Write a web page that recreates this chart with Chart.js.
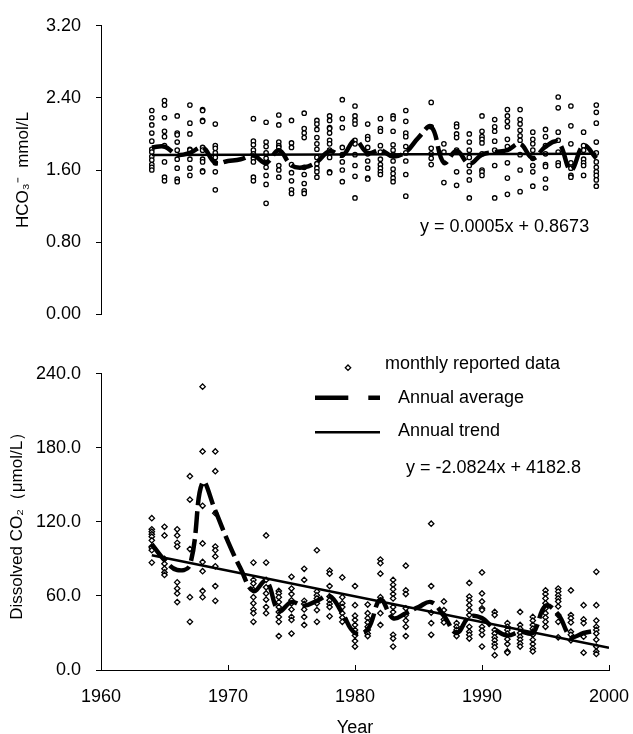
<!DOCTYPE html>
<html>
<head>
<meta charset="utf-8">
<script src="https://cdn.jsdelivr.net/npm/chart.js@4.4.1/dist/chart.umd.min.js"></script>
<style>
    body { margin: 0; background: #fff; }
    #quadro { position: relative; width: 633px; height: 734px; }
    canvas { position: absolute; left: 0; }
</style>
</head>
<body>
<div id="quadro">
    <canvas id="graficoHco3" width="633" height="340" style="top:0px"></canvas>
    <canvas id="graficoCo2" width="633" height="394" style="top:340px"></canvas>
</div>
<script>
// Anos com dados mensais (mesmos anos nos dois gráficos)
const anosMensais = [1964, 1965, 1966, 1967, 1968, 1969, 1972, 1973, 1974, 1975, 1976, 1977, 1978, 1979, 1980,
    1981, 1982, 1983, 1984, 1986, 1987, 1988, 1989, 1990, 1991, 1992, 1993, 1994, 1995, 1996, 1997, 1998, 1999];

// HCO3- mensal (mmol/L), um array por ano
const hco3Mensal = [
    [2.26, 2.18, 2.10, 2.01, 1.92, 1.83, 1.80, 1.75, 1.71, 1.66, 1.63, 1.60],
    [2.37, 2.32, 2.18, 2.03, 1.97, 1.87, 1.69, 1.52, 1.48],
    [2.20, 2.01, 1.99, 1.91, 1.82, 1.72, 1.62, 1.50, 1.47],
    [2.32, 2.12, 2.00, 1.83, 1.82, 1.72, 1.62, 1.54],
    [2.27, 2.26, 2.15, 2.14, 1.85, 1.82, 1.72, 1.69, 1.59, 1.58],
    [2.11, 1.87, 1.84, 1.79, 1.74, 1.68, 1.58, 1.38],
    [2.17, 1.92, 1.88, 1.82, 1.78, 1.73, 1.69, 1.52, 1.48],
    [2.13, 1.91, 1.86, 1.79, 1.73, 1.68, 1.63, 1.54, 1.44, 1.23],
    [2.21, 2.10, 1.91, 1.87, 1.85, 1.81, 1.65, 1.60, 1.52],
    [2.15, 1.90, 1.85, 1.66, 1.57, 1.48, 1.38, 1.34],
    [2.23, 2.06, 2.01, 1.96, 1.63, 1.55, 1.45, 1.37, 1.34],
    [2.15, 2.11, 2.05, 1.96, 1.89, 1.83, 1.74, 1.67, 1.62, 1.58, 1.52],
    [2.20, 2.15, 2.07, 2.06, 2.01, 1.93, 1.89, 1.82, 1.74, 1.58, 1.57],
    [2.38, 2.17, 2.07, 1.85, 1.77, 1.69, 1.60, 1.47],
    [2.31, 2.20, 2.15, 2.11, 1.93, 1.89, 1.77, 1.65, 1.53, 1.29],
    [2.11, 1.97, 1.94, 1.85, 1.78, 1.70, 1.62, 1.51, 1.50],
    [2.17, 2.06, 2.03, 1.87, 1.80, 1.72, 1.66, 1.62, 1.58, 1.55],
    [2.20, 2.17, 2.03, 1.88, 1.82, 1.77, 1.70, 1.61, 1.56, 1.51, 1.47],
    [2.26, 2.14, 2.01, 1.97, 1.86, 1.79, 1.70, 1.55, 1.31],
    [2.35, 2.08, 1.84, 1.78, 1.73, 1.66],
    [1.89, 1.80, 1.46],
    [2.11, 2.08, 2.00, 1.96, 1.82, 1.58, 1.43],
    [2.00, 1.91, 1.82, 1.74, 1.65, 1.58, 1.49, 1.29],
    [2.20, 2.03, 1.97, 1.94, 1.90, 1.78, 1.60, 1.58, 1.54],
    [2.16, 2.08, 2.03, 1.92, 1.82, 1.65, 1.29],
    [2.27, 2.20, 2.14, 2.08, 1.94, 1.86, 1.68, 1.51, 1.33],
    [2.27, 2.16, 2.11, 2.04, 1.98, 1.93, 1.77, 1.60, 1.36],
    [2.02, 1.94, 1.89, 1.82, 1.73, 1.65, 1.58, 1.42],
    [2.05, 1.97, 1.87, 1.78, 1.66, 1.64, 1.50, 1.40],
    [2.41, 2.29, 2.02, 1.93, 1.80, 1.68, 1.65],
    [2.31, 2.09, 1.89, 1.68, 1.62, 1.54, 1.52],
    [2.02, 1.87, 1.82, 1.72, 1.68, 1.65, 1.54],
    [2.32, 2.24, 2.12, 1.91, 1.79, 1.69, 1.63, 1.58, 1.54, 1.49, 1.42]
];

// CO2 dissolvido mensal (umol/L), um array por ano
const co2Mensal = [
    [123, 114, 112, 110, 108, 105, 100, 99, 97, 87],
    [116, 109, 90, 86, 82, 79, 77],
    [114, 109, 103, 100, 71, 66, 62, 55],
    [157, 138, 98, 59, 39],
    [229.5, 177, 133, 102.5, 87.5, 80, 64, 59],
    [177, 161, 127, 100, 97, 92, 84, 68, 56],
    [87, 73, 70, 65, 59, 54, 49, 46, 39],
    [109, 87, 73, 67, 62, 57, 51, 46],
    [64, 62, 59, 55, 51, 47, 43, 39, 27.5],
    [75.5, 66, 61.5, 56.5, 54, 49, 43, 40.5, 29.5],
    [82, 73, 56, 53.5, 49, 43, 36.5],
    [97, 63.5, 60.5, 58, 54, 48.5, 39],
    [80.5, 78, 68, 59.5, 56.5, 53.5, 51, 43.5],
    [75, 59, 54, 51, 46, 42.5, 39],
    [68, 52.5, 44, 40.5, 36.5, 32.5, 28, 23.5, 19],
    [53, 46, 42, 38.5, 35, 32.5, 29.5, 27.5],
    [89.5, 86.5, 78, 59, 56.5, 46, 36.5],
    [73, 69, 65.5, 61.5, 58, 51, 47, 28.5, 25.5, 19],
    [84.5, 64.5, 61.5, 50, 44.5, 40, 35, 27.5],
    [118.5, 68, 46.5, 38, 28.5],
    [55.5, 48.5, 44.5, 41, 38.5],
    [38, 35, 32.5, 30, 27.5],
    [70.5, 59.5, 56.5, 52.5, 48.5, 44.5, 35, 31, 28.5, 25.5],
    [79, 62, 55.5, 50, 48.5, 35, 32, 28.5, 19],
    [47, 44.5, 32.5, 29.5, 26.5, 24, 21, 18.5, 12],
    [38, 35, 32.5, 29.5, 25, 21, 15, 14],
    [47, 36.5, 33.5, 30, 27, 24.5, 21.5, 19],
    [43, 40, 36.5, 33.5, 31, 28.5, 24.5, 21, 17.5, 15],
    [64.5, 61.5, 58, 54, 50, 46, 42.5, 39, 35],
    [66, 63.5, 60.5, 58, 55.5, 51.5, 44.5, 39, 26.5],
    [64.5, 44.5, 42, 38.5, 31, 28.5, 24],
    [52.5, 41, 38, 27, 14],
    [79.5, 52.5, 40, 35, 32.5, 29.5, 24.5, 19, 15, 13]
];

// Médias anuais
const anosMedia = [1964, 1965, 1966, 1967, 1968, 1969, 1970, 1971, 1972, 1973, 1974, 1975, 1976, 1977, 1978, 1979,
    1980, 1981, 1982, 1983, 1984, 1985, 1986, 1987, 1988, 1989, 1990, 1991, 1992, 1993, 1994, 1995, 1996, 1997, 1998, 1999];
const hco3Media = [1.85, 1.86, 1.77, 1.79, 1.85, 1.68, 1.70, 1.72, 1.76, 1.68, 1.82, 1.65, 1.63, 1.69, 1.81, 1.76,
    1.93, 1.79, 1.82, 1.75, 1.80, 1.96, 2.08, 1.68, 1.81, 1.67, 1.77, 1.80, 1.82, 1.89, 1.73, 1.86, 1.91, 1.60, 1.87, 1.73];
const co2Media = [102, 89, 81, 85, 152, 129, 104, 82, 64, 72, 48, 55, 52, 56, 60, 46,
    30, 33, 57, 42, 46, 51, 55, 44, 30, 43, 42, 33, 28, 31, 30, 52, 45, 27, 30, 32];

// Retas de tendência (pontos extremos)
const anosTendHco3 = [1964, 1999];
const hco3Tend = [1.767, 1.781];
const anosTendCo2 = [1964, 2000];
const co2Tend = [93.0, 18.0];

// Textos
const eqHco3 = 'y = 0.0005x + 0.8673';
const eqCo2 = 'y = -2.0824x + 4182.8';
const legendaTextos = ['monthly reported data', 'Annual average', 'Annual trend'];

Chart.defaults.font.family = '"Liberation Sans", Arial, sans-serif';
Chart.defaults.font.size = 18;
Chart.defaults.color = '#000';

function pontosMensais(valores) {
    let pts = [];
    anosMensais.forEach((ano, i) => {
        valores[i].forEach(v => pts.push({ x: ano, y: v }));
    });
    return pts;
}

function pares(xs, ys) {
    return xs.map((x, i) => ({ x: x, y: ys[i] }));
}

function datasets(mensal, media, anosTend, tend, estiloPonto, raio) {
    return [
        {
            type: 'line', data: pares(anosTend, tend),
            borderColor: '#000', borderWidth: 2.5, pointRadius: 0, fill: false
        },
        {
            type: 'line', data: pares(anosMedia, media),
            borderColor: '#000', borderWidth: 4.5, borderDash: [22, 6], borderCapStyle: 'butt',
            tension: 0.4, pointRadius: 0, fill: false
        },
        {
            type: 'scatter', data: pontosMensais(mensal),
            pointStyle: estiloPonto, pointRadius: raio, borderWidth: 1.3,
            borderColor: '#000', backgroundColor: '#fff'
        }
    ];
}

// Plugin que desenha textos, legenda e marcas internas do eixo x
function pluginExtras(desenhar) {
    return {
        id: 'extras',
        afterDraw(chart) {
            const ctx = chart.ctx;
            ctx.save();
            desenhar(chart, ctx);
            ctx.restore();
        }
    };
}

const eixoY = (min, max, passo, casas, titulo, padTitulo) => ({
    min: min, max: max,
    afterFit: s => { s.width = 101; },
    ticks: { stepSize: passo, padding: 15, callback: v => Number(v).toFixed(casas) },
    grid: { drawOnChartArea: false, drawTicks: true, tickLength: 5, color: '#000', lineWidth: 1 },
    border: { display: true, color: '#000', width: 1 },
    title: { display: true, text: titulo, font: { size: 17 }, padding: { top: padTitulo, bottom: 0 } }
});

// Gráfico superior: HCO3-
new Chart(document.getElementById('graficoHco3').getContext('2d'), {
    type: 'scatter',
    data: { datasets: datasets(hco3Mensal, hco3Media, anosTendHco3, hco3Tend, 'circle', 2.2) },
    options: {
        responsive: false, animation: false,
        layout: { padding: { left: 0, right: 24, top: 21, bottom: 18 } },
        plugins: { legend: { display: false }, tooltip: { enabled: false } },
        scales: {
            x: { type: 'linear', min: 1960, max: 2000, display: false },
            y: eixoY(0, 3.2, 0.8, 2, 'HCO₃⁻  mmol/L', 13)
        }
    },
    plugins: [pluginExtras((chart, ctx) => {
        ctx.font = '18px "Liberation Sans", Arial, sans-serif';
        ctx.fillStyle = '#000';
        ctx.textBaseline = 'middle';
        ctx.fillText(eqHco3, 420, 227);
    })]
});

// Gráfico inferior: CO2 dissolvido
new Chart(document.getElementById('graficoCo2').getContext('2d'), {
    type: 'scatter',
    data: { datasets: datasets(co2Mensal, co2Media, anosTendCo2, co2Tend, 'rectRot', 2.7) },
    options: {
        responsive: false, animation: false,
        layout: { padding: { left: 0, right: 24, top: 33.7, bottom: 0 } },
        plugins: { legend: { display: false }, tooltip: { enabled: false } },
        scales: {
            x: {
                type: 'linear', min: 1960, max: 2000,
                afterFit: s => { s.height = 64; },
                ticks: { stepSize: 10, padding: 2, callback: v => String(v) },
                // marcas externas invisíveis, só para afastar os rótulos do eixo
                grid: { drawOnChartArea: false, drawTicks: true, tickLength: 14, tickColor: 'rgba(0,0,0,0)' },
                border: { display: true, color: '#000', width: 1 },
                title: { display: true, text: 'Year', font: { size: 18, lineHeight: 1 }, padding: { top: 0, bottom: -3 } }
            },
            y: eixoY(0, 240, 60, 1, 'Dissolved CO₂（μmol/L）', 7)
        }
    },
    plugins: [pluginExtras((chart, ctx) => {
        const xs = chart.scales.x;
        const base = chart.chartArea.bottom;
        // marcas do eixo x voltadas para dentro
        ctx.strokeStyle = '#000';
        ctx.lineWidth = 1;
        xs.ticks.forEach(t => {
            const px = Math.round(xs.getPixelForValue(t.value)) + 0.5;
            ctx.beginPath();
            ctx.moveTo(px, base);
            ctx.lineTo(px, base - 5);
            ctx.stroke();
        });

        // legenda
        ctx.fillStyle = '#fff';
        ctx.lineWidth = 1.3;
        ctx.beginPath();
        ctx.moveTo(348, 25);
        ctx.lineTo(350.7, 27.7);
        ctx.lineTo(348, 30.4);
        ctx.lineTo(345.3, 27.7);
        ctx.closePath();
        ctx.fill();
        ctx.stroke();

        ctx.lineWidth = 4.5;
        ctx.beginPath();
        ctx.moveTo(315, 57.7); ctx.lineTo(348.3, 57.7);
        ctx.moveTo(368.3, 57.7); ctx.lineTo(380, 57.7);
        ctx.stroke();

        ctx.lineWidth = 2.5;
        ctx.beginPath();
        ctx.moveTo(315, 92.3); ctx.lineTo(380, 92.3);
        ctx.stroke();

        ctx.font = '18px "Liberation Sans", Arial, sans-serif';
        ctx.fillStyle = '#000';
        ctx.textBaseline = 'middle';
        ctx.fillText(legendaTextos[0], 385, 24.5);
        ctx.fillText(legendaTextos[1], 398, 58.3);
        ctx.fillText(legendaTextos[2], 398, 91.5);
        ctx.fillText(eqCo2, 406, 128.3);
    })]
});
</script>
</body>
</html>
